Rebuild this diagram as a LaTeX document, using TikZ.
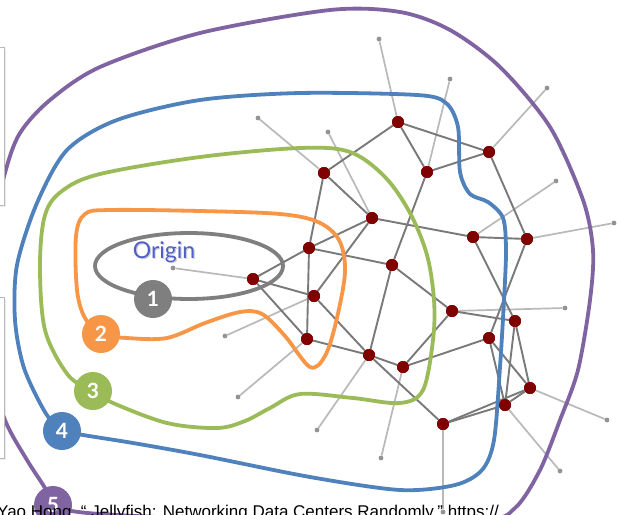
\documentclass[tikz,border=0pt]{standalone}
\usepackage{fontspec}
\setmainfont{Liberation Sans}
\newfontfamily\latofont{Lato}
\definecolor{ringgray}{HTML}{7F7F7F}
\definecolor{ringorange}{HTML}{F79646}
\definecolor{ringgreen}{HTML}{9BBB59}
\definecolor{ringblue}{HTML}{4F81BD}
\definecolor{ringpurple}{HTML}{8064A2}
\definecolor{switchred}{HTML}{800000}
\definecolor{origintext}{HTML}{4F5FC8}
\tikzset{
  sw/.style={circle, fill=switchred, inner sep=0pt, minimum size=12pt},
  leaf/.style={circle, fill=gray!85, inner sep=0pt, minimum size=4.8pt},
  link/.style={draw=gray!95!black, line width=1.9pt},
  hostlink/.style={draw=gray!55, line width=1.7pt},
  ring/.style={line width=3.8pt, line join=round},
  numcirc/.style={circle, inner sep=0pt, minimum size=38pt, text=white,
    font=\latofont\bfseries\fontsize{21}{21}\selectfont},
  sidebox/.style={fill=white, draw=gray!55, line width=1pt}
}
\begin{document}
\begin{tikzpicture}[x=1pt, y=-1pt]
\useasboundingbox (0,0) rectangle (617,514);
\clip (0,0) rectangle (617,514);
\fill[white] (0,0) rectangle (617,514);

% switches
\node[sw] (A) at (398,122) {};
\node[sw] (B) at (489,152) {};
\node[sw] (C) at (427,172) {};
\node[sw] (D) at (324,173) {};
\node[sw] (E) at (372,218) {};
\node[sw] (F) at (473,237) {};
\node[sw] (G) at (527,239) {};
\node[sw] (H) at (309,248) {};
\node[sw] (I) at (253,279) {};
\node[sw] (J) at (392,265) {};
\node[sw] (K) at (314,296) {};
\node[sw] (L) at (452,311) {};
\node[sw] (M) at (515,321) {};
\node[sw] (N) at (489,338) {};
\node[sw] (O) at (307,339) {};
\node[sw] (P) at (369,355) {};
\node[sw] (Q) at (403,367) {};
\node[sw] (R) at (530,388) {};
\node[sw] (S) at (505,405) {};
\node[sw] (T) at (443,424) {};

% hosts
\node[leaf] (hA) at (379,39) {};
\node[leaf] (hB) at (547,88) {};
\node[leaf] (hC) at (450,79) {};
\node[leaf] (hD) at (258,118) {};
\node[leaf] (hE) at (328,132) {};
\node[leaf] (hF) at (556,181) {};
\node[leaf] (hG) at (614,223) {};
\node[leaf] (hI) at (173,268) {};
\node[leaf] (hK) at (225,336) {};
\node[leaf] (hO) at (238,397) {};
\node[leaf] (hP) at (317,430) {};
\node[leaf] (hQ) at (381,458) {};
\node[leaf] (hL) at (565,308) {};
\node[leaf] (hR) at (607,420) {};
\node[leaf] (hS) at (560,471) {};
\node[leaf] (hT) at (443,512) {};

% host links
\foreach \s/\h in {A/hA,B/hB,C/hC,D/hD,E/hE,F/hF,G/hG,I/hI,K/hK,O/hO,P/hP,Q/hQ,L/hL,R/hR,S/hS,T/hT}
  \draw[hostlink] (\s) -- (\h);
% switch links
\foreach \u/\v in {A/D,A/C,A/B,C/B,B/G,D/E,D/H,E/F,F/G,C/J,E/K,H/I,F/M,G/N,
                   L/M,J/L,L/Q,Q/N,M/R,M/S,N/R,N/S,R/S,T/S,T/R,K/P,P/T,O/P,
                   H/O,I/K,I/O,Q/P,J/P,H/J,H/E}
  \draw[link] (\u) -- (\v);

% side panels
\fill[gray!15] (-30,49) rectangle (6,207);
\fill[gray!15] (-30,299) rectangle (6,460);

% hop rings
\draw[ring, ringgray] (189,266) ellipse [x radius=94pt, y radius=33pt];
\draw[ring, ringorange] plot[smooth cycle, tension=0.55] coordinates {
  (101,334) (127,338) (167,338) (205,323) (240,312) (262,314) (285,336)
  (310,367) (325,356) (336,322) (345,272) (339,240) (318,222) (280,214)
  (200,211) (110,210) (85,214) (76,236) (77,290) (85,318)};
\draw[ring, ringgreen] plot[smooth cycle, tension=0.55] coordinates {
  (93,391) (113,403) (167,423) (217,428) (245,421) (270,408) (300,394)
  (353,398) (400,403) (423,390) (433,340) (434,300) (427,255) (410,213)
  (385,177) (350,152) (300,148) (200,157) (100,174) (62,191) (45,215)
  (40,265) (45,330) (68,375)};
\draw[ring, ringblue] plot[smooth cycle, tension=0.5] coordinates {
  (62,431) (83,435) (133,443) (200,455) (310,477) (400,490) (455,485)
  (482,470) (494,440) (500,367) (504,300) (506,250) (503,218) (488,202)
  (470,194) (460,172) (458,127) (446,103) (417,95) (300,93) (200,100)
  (117,120) (67,150) (37,203) (17,265) (15,320) (24,368) (45,412)};
\draw[ring, ringpurple] plot[smooth cycle, tension=0.5] coordinates {
  (53,505) (100,514) (300,522) (480,520) (515,508) (540,470) (560,420)
  (578,370) (590,300) (593,250) (583,200) (550,127) (500,67) (450,30)
  (400,12) (330,10) (200,33) (100,67) (50,100) (20,133) (5,173)
  (-12,250) (-12,360) (5,420) (27,460) (45,488)};

% side panels drawn over the outer ring
\draw[sidebox] (-30,47) rectangle (4,205);
\draw[sidebox] (-30,297) rectangle (4,458);

% switches on top of rings
\foreach \s in {A,B,C,D,E,F,G,H,I,J,K,L,M,N,O,P,Q,R,S,T}
  \fill[switchred] (\s) circle (6pt);

% labels
\node[font=\latofont\fontsize{23}{23}\selectfont, text=gray!35] at (165.2,253.2) {Origin};
\node[font=\latofont\fontsize{23}{23}\selectfont, text=origintext] (orig) at (164,252) {Origin};
\node[numcirc, fill=ringgray] (n1) at (153,299) {1};
\node[numcirc, fill=ringorange] (n2) at (101,334) {2};
\node[numcirc, fill=ringgreen] (n3) at (93,391) {3};
\node[numcirc, fill=ringblue] (n4) at (62,431) {4};
\node[numcirc, fill=ringpurple] (n5) at (53,505) {5};

% citation line
\node[anchor=base west, inner sep=0pt, font=\fontsize{17}{17}\selectfont] (cite) at (-3,517)
  {Yao Hong, “ Jellyfish: Networking Data Centers Randomly,” https://};
\end{tikzpicture}
\end{document}
